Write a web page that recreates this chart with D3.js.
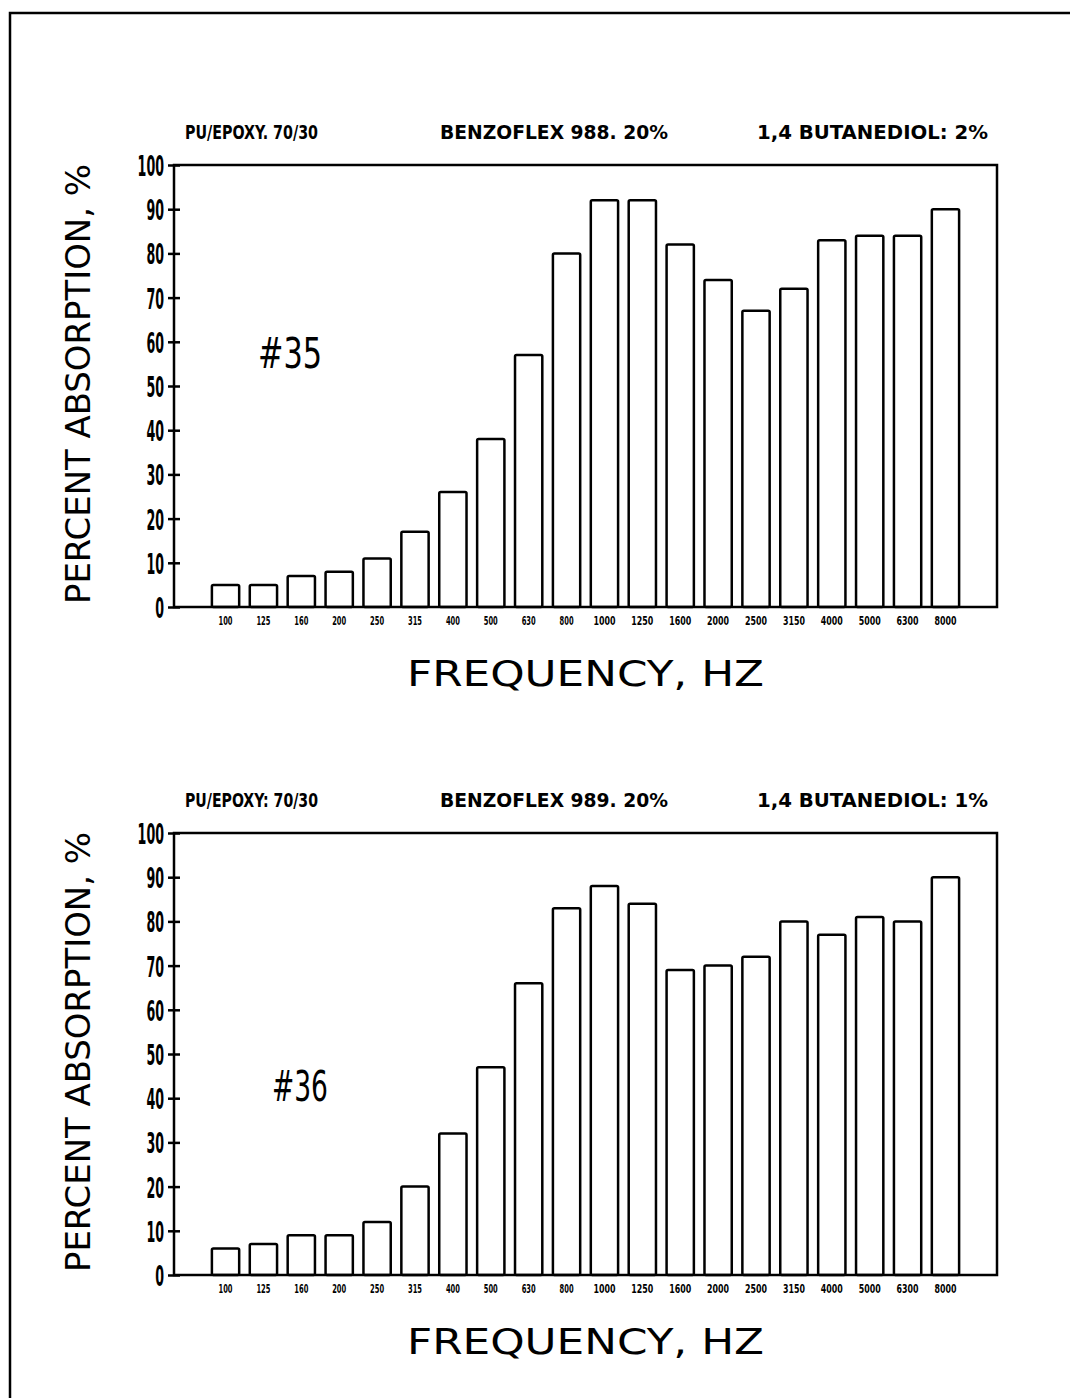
<!DOCTYPE html>
<html>
<head>
<meta charset="utf-8">
<script src="https://cdn.jsdelivr.net/npm/d3@7"></script>
<style>
  html, body { margin: 0; padding: 0; background: #fff; }
  svg { display: block; }
</style>
</head>
<body>
<svg id="chart" width="1070" height="1398"></svg>
<script>
// ---- data ----
const categories = ["100","125","160","200","250","315","400","500","630","800",
  "1000","1250","1600","2000","2500","3150","4000","5000","6300","8000"];
const absorption35 = [5,5,7,8,11,17,26,38,57,80,92,92,82,74,67,72,83,84,84,90];
const absorption36 = [6,7,9,9,12,20,32,47,66,83,88,84,69,70,72,80,77,81,80,90];
const yTicks = [0,10,20,30,40,50,60,70,80,90,100];
const titles35 = ["PU/EPOXY. 70/30", "BENZOFLEX 988. 20%", "1,4 BUTANEDIOL: 2%"];
const titles36 = ["PU/EPOXY: 70/30", "BENZOFLEX 989. 20%", "1,4 BUTANEDIOL: 1%"];
const sampleIds = ["#35", "#36"];
const yTitle = "PERCENT ABSORPTION, %";
const xTitle = "FREQUENCY, HZ";

const svg = d3.select("#chart");
const narrow = "'Liberation Sans Narrow', 'DejaVu Sans Condensed', 'Liberation Sans', sans-serif";
const light = "'DejaVu Sans Condensed', 'DejaVu Sans', sans-serif";

// page frame (top + left edges)
svg.append("path")
  .attr("d", "M10,1398 L10,13 L1070,13")
  .attr("fill", "none").attr("stroke", "#000").attr("stroke-width", 2.5);

function drawChart(dy, values, titles, id, idPos) {
  const g = svg.append("g").attr("transform", `translate(0,${dy})`);
  const left = 174, right = 997, top = 165, bottom = 607;

  const x = d3.scaleBand().domain(categories).range([left, right])
    .paddingInner(0.28).paddingOuter(1.0);
  const y = d3.scaleLinear().domain([0, 100]).range([bottom, top]);

  // titles
  const tx = [185, 440, 757], tw = [133, 228, 231];
  titles.forEach((t, i) => {
    g.append("text").attr("x", tx[i]).attr("y", 139)
      .attr("font-family", narrow).attr("font-weight", "bold")
      .attr("font-size", 19)
      .attr("textLength", tw[i]).attr("lengthAdjust", "spacingAndGlyphs")
      .text(t);
  });

  // bars
  g.selectAll("rect.bar").data(values).join("rect")
    .attr("class", "bar")
    .attr("x", (d, i) => x(categories[i]))
    .attr("y", d => y(d))
    .attr("width", x.bandwidth())
    .attr("height", d => y(0) - y(d))
    .attr("rx", 1.5)
    .attr("fill", "#fff").attr("stroke", "#000").attr("stroke-width", 2.5);

  // frame
  g.append("rect").attr("x", left).attr("y", top)
    .attr("width", right - left).attr("height", bottom - top)
    .attr("fill", "none").attr("stroke", "#000").attr("stroke-width", 2.5);

  // y axis ticks (crossing)
  const yAxis = d3.axisLeft(y).tickValues(yTicks).tickSize(0).tickFormat("");
  const ya = g.append("g").attr("transform", `translate(${left},0)`).call(yAxis);
  ya.select(".domain").remove();
  ya.selectAll(".tick").append("line")
    .attr("x1", -6).attr("x2", 6).attr("stroke", "#000").attr("stroke-width", 2.5);
  ya.selectAll(".tick").append("text")
    .attr("x", -10).attr("dy", "0.36em").attr("fill", "#000")
    .attr("text-anchor", "end")
    .attr("font-family", narrow).attr("font-weight", "bold").attr("font-size", 29)
    .attr("textLength", d => String(d).length * 8.8)
    .attr("lengthAdjust", "spacingAndGlyphs")
    .text(d => d);

  // x axis tick labels
  const xAxis = d3.axisBottom(x).tickSize(0).tickFormat("");
  const xa = g.append("g").attr("transform", `translate(0,${bottom})`).call(xAxis);
  xa.select(".domain").remove();
  xa.selectAll(".tick").append("text")
    .attr("y", 18).attr("fill", "#000").attr("text-anchor", "middle")
    .attr("font-family", narrow).attr("font-weight", "bold").attr("font-size", 13)
    .attr("textLength", d => d.length > 3 ? 22 : 14)
    .attr("lengthAdjust", "spacingAndGlyphs")
    .text(d => d);

  // axis titles
  g.append("text")
    .attr("transform", `translate(90,${(top + bottom) / 2 - 2}) rotate(-90)`)
    .attr("text-anchor", "middle")
    .attr("font-family", light)
    .attr("font-weight", 200).attr("font-size", 33)
    .attr("textLength", 440).attr("lengthAdjust", "spacingAndGlyphs")
    .text(yTitle);

  g.append("text")
    .attr("x", (left + right) / 2).attr("y", 686)
    .attr("text-anchor", "middle")
    .attr("font-family", light).attr("font-weight", 200)
    .attr("font-size", 35)
    .attr("textLength", 357).attr("lengthAdjust", "spacingAndGlyphs")
    .text(xTitle);

  // sample id
  g.append("text")
    .attr("x", idPos[0]).attr("y", idPos[1])
    .attr("font-family", narrow).attr("font-size", 42)
    .attr("textLength", idPos[2]).attr("lengthAdjust", "spacingAndGlyphs")
    .text(id);
}

drawChart(0, absorption35, titles35, sampleIds[0], [258, 368, 64]);
drawChart(668, absorption36, titles36, sampleIds[1], [272, 433, 56]);
</script>
</body>
</html>
